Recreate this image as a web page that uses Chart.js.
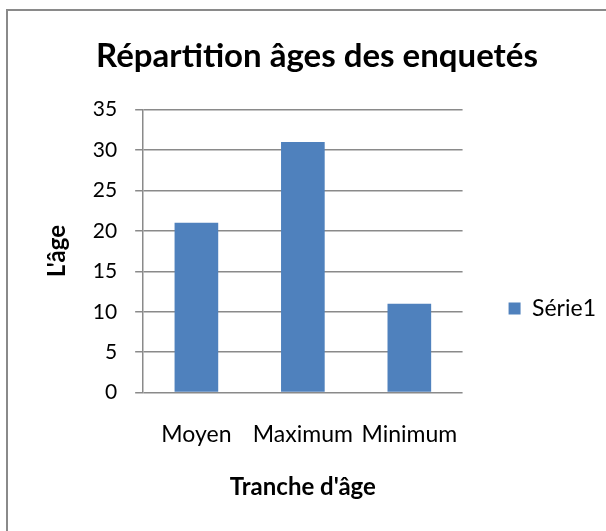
<!DOCTYPE html>
<html>
<head>
<meta charset="utf-8">
<script src="https://cdn.jsdelivr.net/npm/chart.js@4.4.0/dist/chart.umd.min.js"></script>
<style>
  html, body { margin: 0; padding: 0; background: #fff; overflow: hidden; }
  #frame {
    position: absolute; left: 6px; top: 9px;
    width: 700px; height: 700px;
    border: 2px solid #8a8a8a;
  }
  #wrap { position: absolute; left: 0; top: 0; width: 598px; height: 595px; }
</style>
</head>
<body>
<div id="frame">
  <div id="wrap"><canvas id="chart"></canvas></div>
</div>
<script>
// data
const categories = ['Moyen', 'Maximum', 'Minimum'];
const values = [21, 31, 11];
const seriesName = 'Série1';
const yMin = 0, yMax = 35, yStep = 5;

const chartTitle = 'Répartition âges des enquetés';
const xTitle = "Tranche d'âge";
const yTitle = "L'âge";

const fontName = 'Lato';
const gridColor = '#8a8a8a';
const barColor = '#4F81BD';

const ctx = document.getElementById('chart');

new Chart(ctx, {
  type: 'bar',
  data: {
    labels: categories,
    datasets: [{
      label: seriesName,
      data: values,
      backgroundColor: barColor,
      borderWidth: 0,
      barPercentage: 0.41,
      categoryPercentage: 1
    }]
  },
  options: {
    responsive: true,
    maintainAspectRatio: false,
    animation: false,
    layout: { padding: { left: 20, right: 0, top: 0, bottom: 0 } },
    plugins: {
      title: {
        display: true,
        text: chartTitle,
        color: '#000',
        font: { family: fontName, size: 33, weight: 'bold' },
        padding: { top: 26, bottom: 33 }
      },
      legend: {
        position: 'right',
        labels: {
          boxWidth: 12,
          boxHeight: 12,
          padding: 46,
          color: '#000',
          font: { family: fontName, size: 23 }
        }
      },
      tooltip: { enabled: false }
    },
    scales: {
      x: {
        grid: { display: false },
        border: { display: false },
        ticks: {
          color: '#000',
          padding: 20,
          font: { family: fontName, size: 23 }
        },
        title: {
          display: true,
          text: xTitle,
          color: '#000',
          font: { family: fontName, size: 24, weight: 'bold' },
          padding: { top: 5, bottom: 104 }
        }
      },
      y: {
        min: yMin,
        max: yMax,
        grid: {
          color: gridColor,
          lineWidth: 1.5,
          tickLength: 8,
          drawTicks: true
        },
        border: { display: true, color: gridColor, width: 1.5 },
        ticks: {
          stepSize: yStep,
          color: '#000',
          padding: 18,
          font: { family: fontName, size: 21 }
        },
        title: {
          display: true,
          text: yTitle,
          color: '#000',
          font: { family: fontName, size: 24, weight: 'bold' },
          padding: { top: 15, bottom: 3 }
        }
      }
    }
  }
});
</script>
</body>
</html>
